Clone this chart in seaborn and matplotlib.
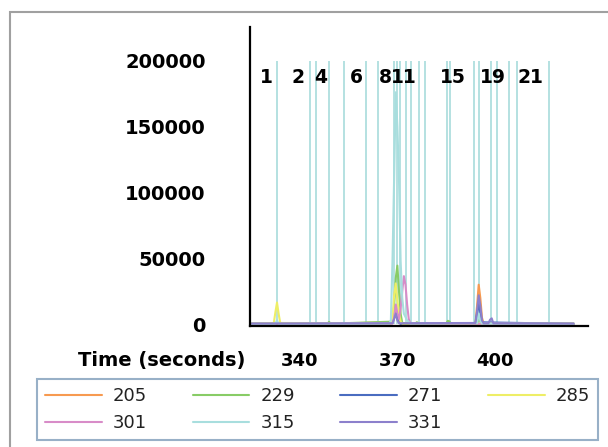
import pandas as pd
import matplotlib.pyplot as plt
import seaborn as sns
from matplotlib.patches import Rectangle

# --- data: ion traces (time in s, intensity) ---
t_205 = [325.2, 350.0, 368.5, 369.0, 369.5, 370.0, 370.5, 371.0, 385.0, 394.0, 394.5, 395.0, 395.5, 396.0, 396.5, 410.0, 424.2]
i_205 = [400, 500, 1500, 6000, 10000, 5000, 1500, 400, 500, 600, 14000, 30000, 20000, 5000, 800, 500, 400]

t_229 = [325.2, 348.5, 349.0, 349.5, 368.5, 369.0, 369.5, 370.0, 370.5, 371.0, 371.5, 375.5, 376.0, 376.5,
         385.0, 385.5, 386.0, 386.5, 394.5, 395.0, 395.5, 396.0, 424.2]
i_229 = [500, 500, 1800, 500, 2000, 14000, 35000, 44500, 25000, 8000, 1000, 500, 1600, 500,
         600, 2600, 2200, 500, 800, 3500, 2500, 600, 500]

t_271 = [325.2, 332.5, 333.0, 333.5, 368.5, 369.0, 369.5, 370.0, 370.5, 371.0, 394.0, 394.5, 395.0, 395.5, 396.0, 424.2]
i_271 = [300, 300, 1500, 300, 1000, 5000, 8500, 4000, 1500, 300, 500, 8000, 16000, 9000, 1500, 300]

t_285 = [325.2, 332.0, 332.5, 333.0, 333.5, 334.0, 368.0, 368.5, 369.0, 369.5, 370.0, 370.5, 371.0, 371.5, 424.2]
i_285 = [500, 800, 9000, 16500, 8000, 1000, 500, 4000, 22000, 31000, 18000, 9000, 2000, 500, 500]

t_301 = [325.2, 368.5, 369.0, 369.5, 370.0, 370.5, 371.0, 371.5, 372.0, 372.5, 373.0, 373.5, 374.0, 424.2]
i_301 = [300, 500, 5000, 15000, 8000, 4000, 12000, 25000, 36500, 30000, 15000, 4000, 500, 300]

t_315 = [325.2, 332.5, 333.0, 333.5, 367.5, 368.0, 368.5, 369.0, 369.5, 370.0, 370.5, 371.0, 371.5, 372.0,
         373.0, 374.0, 394.5, 395.0, 395.5, 396.0, 424.2]
i_315 = [400, 400, 3000, 400, 500, 3000, 48000, 110000, 176000, 150000, 110000, 48000, 20000, 8000,
         3000, 500, 800, 8000, 3000, 500, 400]

t_331 = [325.2, 368.5, 369.0, 369.5, 370.0, 370.5, 394.0, 394.5, 395.0, 395.5, 396.0, 396.5, 398.0, 398.5,
         399.0, 399.5, 424.2]
i_331 = [600, 800, 4000, 8000, 3000, 800, 1000, 10000, 22000, 14000, 3000, 800, 800, 3500,
         4500, 800, 600]

ions = ['205', '229', '271', '285', '301', '315', '331']
traces = {'205': (t_205, i_205), '229': (t_229, i_229), '271': (t_271, i_271), '285': (t_285, i_285),
          '301': (t_301, i_301), '315': (t_315, i_315), '331': (t_331, i_331)}

# peak marker lines and the labels that are visible on top
peak_times = [332.9, 343.0, 345.0, 349.0, 353.7, 360.5, 364.0, 369.1, 369.9, 370.9, 372.7, 374.1,
              376.8, 378.6, 385.3, 386.1, 393.5, 395.1, 398.8, 400.7, 404.3, 406.7, 416.6]
peak_labels = ['1', '2', '4', '6', '8', '11', '15', '19', '21']
peak_label_t = [331.8, 341.6, 348.4, 359.5, 368.3, 376.0, 390.9, 403.3, 415.0]

x_ticks = [330, 340, 350, 360, 370, 380, 390, 400, 410, 420]
x_ticklabels = ['', '340', '', '', '370', '', '', '400', '', '']
y_ticks = [0, 25000, 50000, 75000, 100000, 125000, 150000, 175000, 200000]
y_ticklabels = ['0', '', '50000', '', '100000', '', '150000', '', '200000']

palette = {'205': '#f79a50', '229': '#88cc66', '271': '#4a6cc0', '285': '#eeee66',
           '301': '#d88cc8', '315': '#a8dede', '331': '#8c80cc'}

rows = []
for ion in ions:
    for t, v in zip(*traces[ion]):
        rows.append((ion, t, v))
df = pd.DataFrame(rows, columns=['ion', 'time', 'intensity'])

sns.set_style('white')
plt.rcParams['font.family'] = ['DejaVu Sans']
plt.rcParams['text.color'] = 'black'
plt.rcParams['xtick.color'] = 'black'
plt.rcParams['ytick.color'] = 'black'
plt.rcParams['axes.labelcolor'] = 'black'

fig = plt.figure(figsize=(6.08, 4.47), dpi=100)
ax = fig.add_axes([250 / 608, 1 - 326 / 447, 338 / 608, 299 / 447])

# grey frame around the chart
fig.patches.append(Rectangle((10 / 608, -0.05), 1.1, 1 - 12 / 447 + 0.05, transform=fig.transFigure,
                             fill=False, edgecolor='#a0a0a0', linewidth=1.5, zorder=0))

ax.vlines(peak_times, 0, 200000, color='#a8dcdc', linewidth=1.2, zorder=1)
for lab, t in zip(peak_labels, peak_label_t):
    ax.text(t, 187000, lab, ha='right', va='center', fontsize=13.5, fontweight='bold',
            color='black', zorder=3)

sns.lineplot(data=df, x='time', y='intensity', hue='ion', hue_order=ions, palette=palette,
             estimator=None, linewidth=1.5, ax=ax, zorder=2)

handles, labels = ax.get_legend_handles_labels()
ax.get_legend().remove()
# legend fills column by column; reorder so rows read 205 229 271 285 / 301 315 331
order = [0, 4, 1, 5, 2, 6, 3]
handles = [handles[k] for k in order]
labels = [labels[k] for k in order]

ax.set_xlim(324.7, 428.6)
ax.set_ylim(-1300, 225500)
ax.set_xticks(x_ticks)
ax.set_xticklabels(x_ticklabels)
ax.set_yticks(y_ticks)
ax.set_yticklabels(y_ticklabels)

for s in ['top', 'right']:
    ax.spines[s].set_visible(False)
for s in ['left', 'bottom']:
    ax.spines[s].set_color('black')
    ax.spines[s].set_linewidth(1.6)

ax.tick_params(axis='y', direction='out', length=7, width=1.5, pad=25, labelsize=14, colors='black')
ax.tick_params(axis='x', direction='out', length=10, width=1.5, pad=9, labelsize=13, colors='black')
for lbl in ax.get_xticklabels() + ax.get_yticklabels():
    lbl.set_fontweight('bold')

ax.set_ylabel('')
ax.set_xlabel('Time (seconds)', fontsize=14, fontweight='bold', ha='right', va='center')
ax.xaxis.set_label_coords(-0.015, -0.114)

leg = fig.legend(handles, labels, ncol=4, loc='upper left',
                 bbox_to_anchor=(37 / 608, 1 - 379 / 447, 561 / 608, 0),
                 mode='expand', fancybox=False, frameon=True, fontsize=13,
                 handlelength=3.15, handletextpad=0.6, columnspacing=2.2,
                 labelspacing=0.5, borderaxespad=0, borderpad=0.45)
leg.get_frame().set_edgecolor('#7f9db9')
leg.get_frame().set_linewidth(1.5)
for txt in leg.get_texts():
    txt.set_color('#222222')

fig.savefig('out.png', dpi=100)
